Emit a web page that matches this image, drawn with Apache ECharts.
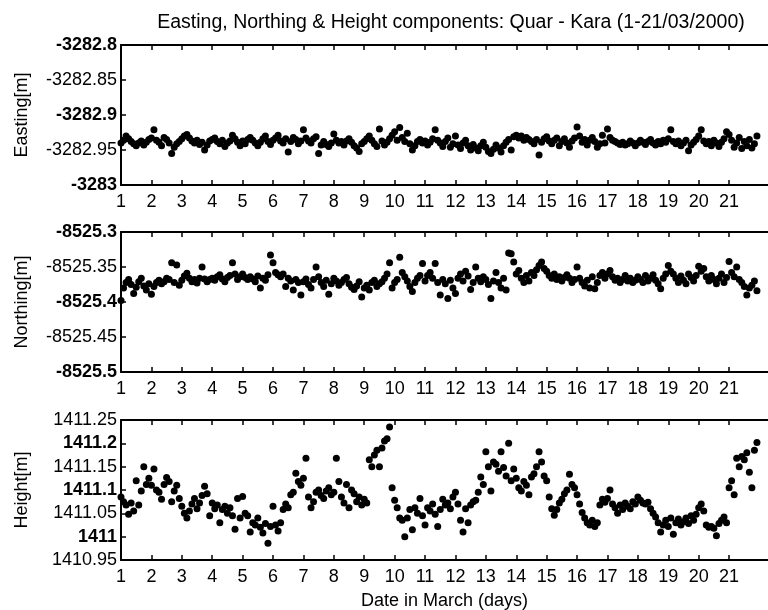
<!DOCTYPE html>
<html>
<head>
<meta charset="utf-8">
<title>Quar - Kara components</title>
<script src="https://cdn.jsdelivr.net/npm/echarts@6/dist/echarts.min.js"></script>
<style>
  html, body { margin: 0; padding: 0; background: #fff; }
  #main { width: 768px; height: 610px; }
</style>
</head>
<body>
<div id="main"></div>
<script>
// days shown on the x axes
const dayTicks = [1, 2, 3, 4, 5, 6, 7, 8, 9, 10, 11, 12, 13, 14, 15, 16, 17, 18, 19, 20, 21];
// samples are every 2 hours starting at day 1
const firstDay = 1;
const samplesPerDay = 12;

// Easting [m], one row per day
const easting = [
  -3282.940,-3282.936,-3282.930,-3282.934,-3282.938,-3282.941,-3282.944,-3282.940,-3282.937,-3282.943,-3282.939,-3282.935,
  -3282.933,-3282.921,-3282.936,-3282.939,-3282.944,-3282.932,-3282.935,-3282.940,-3282.955,-3282.946,-3282.941,-3282.938,
  -3282.934,-3282.930,-3282.928,-3282.933,-3282.937,-3282.940,-3282.936,-3282.942,-3282.939,-3282.950,-3282.943,-3282.937,
  -3282.935,-3282.933,-3282.938,-3282.941,-3282.936,-3282.945,-3282.940,-3282.937,-3282.929,-3282.934,-3282.939,-3282.944,
  -3282.937,-3282.941,-3282.935,-3282.932,-3282.936,-3282.940,-3282.944,-3282.939,-3282.934,-3282.930,-3282.938,-3282.942,
  -3282.936,-3282.933,-3282.929,-3282.937,-3282.940,-3282.934,-3282.953,-3282.938,-3282.932,-3282.935,-3282.941,-3282.937,
  -3282.921,-3282.933,-3282.937,-3282.940,-3282.934,-3282.931,-3282.955,-3282.943,-3282.938,-3282.942,-3282.945,-3282.940,
  -3282.927,-3282.936,-3282.940,-3282.938,-3282.943,-3282.937,-3282.934,-3282.939,-3282.944,-3282.947,-3282.952,-3282.941,
  -3282.938,-3282.934,-3282.930,-3282.936,-3282.941,-3282.945,-3282.920,-3282.937,-3282.943,-3282.939,-3282.934,-3282.929,
  -3282.924,-3282.936,-3282.918,-3282.932,-3282.938,-3282.926,-3282.941,-3282.950,-3282.944,-3282.938,-3282.935,-3282.940,
  -3282.937,-3282.943,-3282.939,-3282.934,-3282.921,-3282.936,-3282.940,-3282.945,-3282.938,-3282.933,-3282.946,-3282.941,
  -3282.930,-3282.943,-3282.948,-3282.940,-3282.936,-3282.944,-3282.950,-3282.942,-3282.947,-3282.951,-3282.944,-3282.939,
  -3282.946,-3282.952,-3282.955,-3282.949,-3282.943,-3282.947,-3282.953,-3282.944,-3282.939,-3282.935,-3282.950,-3282.931,
  -3282.929,-3282.933,-3282.930,-3282.936,-3282.932,-3282.935,-3282.938,-3282.941,-3282.935,-3282.957,-3282.939,-3282.934,
  -3282.931,-3282.937,-3282.941,-3282.936,-3282.933,-3282.944,-3282.938,-3282.934,-3282.940,-3282.946,-3282.937,-3282.933,
  -3282.917,-3282.930,-3282.939,-3282.935,-3282.943,-3282.936,-3282.932,-3282.938,-3282.946,-3282.941,-3282.929,-3282.940,
  -3282.920,-3282.932,-3282.936,-3282.938,-3282.940,-3282.942,-3282.939,-3282.943,-3282.941,-3282.937,-3282.940,-3282.944,
  -3282.940,-3282.936,-3282.939,-3282.942,-3282.938,-3282.935,-3282.940,-3282.943,-3282.938,-3282.941,-3282.936,-3282.939,
  -3282.934,-3282.921,-3282.938,-3282.941,-3282.937,-3282.944,-3282.940,-3282.936,-3282.951,-3282.943,-3282.939,-3282.935,
  -3282.930,-3282.921,-3282.937,-3282.941,-3282.938,-3282.944,-3282.936,-3282.940,-3282.945,-3282.939,-3282.934,-3282.924,
  -3282.928,-3282.936,-3282.946,-3282.940,-3282.932,-3282.948,-3282.938,-3282.944,-3282.935,-3282.947,-3282.941,-3282.930
];

// Northing [m]
const northing = [
  -8525.398,-8525.380,-8525.372,-8525.368,-8525.375,-8525.388,-8525.379,-8525.371,-8525.366,-8525.377,-8525.383,-8525.374,
  -8525.389,-8525.378,-8525.372,-8525.369,-8525.374,-8525.371,-8525.366,-8525.368,-8525.344,-8525.372,-8525.347,-8525.376,
  -8525.369,-8525.363,-8525.359,-8525.366,-8525.371,-8525.368,-8525.373,-8525.366,-8525.350,-8525.367,-8525.371,-8525.368,
  -8525.366,-8525.369,-8525.364,-8525.361,-8525.367,-8525.371,-8525.365,-8525.362,-8525.344,-8525.360,-8525.368,-8525.364,
  -8525.360,-8525.365,-8525.368,-8525.364,-8525.367,-8525.371,-8525.363,-8525.380,-8525.366,-8525.369,-8525.361,-8525.333,
  -8525.344,-8525.358,-8525.361,-8525.364,-8525.360,-8525.378,-8525.366,-8525.370,-8525.383,-8525.368,-8525.372,-8525.390,
  -8525.371,-8525.367,-8525.375,-8525.380,-8525.368,-8525.350,-8525.364,-8525.372,-8525.378,-8525.369,-8525.389,-8525.374,
  -8525.366,-8525.370,-8525.376,-8525.372,-8525.368,-8525.365,-8525.374,-8525.379,-8525.382,-8525.377,-8525.371,-8525.393,
  -8525.380,-8525.376,-8525.383,-8525.372,-8525.369,-8525.378,-8525.374,-8525.371,-8525.366,-8525.360,-8525.344,-8525.380,
  -8525.372,-8525.368,-8525.336,-8525.358,-8525.364,-8525.370,-8525.378,-8525.385,-8525.372,-8525.366,-8525.362,-8525.345,
  -8525.370,-8525.362,-8525.358,-8525.366,-8525.345,-8525.372,-8525.390,-8525.368,-8525.374,-8525.395,-8525.369,-8525.380,
  -8525.388,-8525.366,-8525.360,-8525.370,-8525.356,-8525.363,-8525.382,-8525.372,-8525.350,-8525.366,-8525.371,-8525.364,
  -8525.368,-8525.375,-8525.395,-8525.370,-8525.358,-8525.372,-8525.380,-8525.366,-8525.383,-8525.330,-8525.331,-8525.343,
  -8525.360,-8525.355,-8525.366,-8525.372,-8525.362,-8525.370,-8525.358,-8525.362,-8525.354,-8525.348,-8525.343,-8525.352,
  -8525.356,-8525.362,-8525.366,-8525.360,-8525.368,-8525.364,-8525.370,-8525.365,-8525.361,-8525.366,-8525.372,-8525.368,
  -8525.350,-8525.366,-8525.372,-8525.377,-8525.369,-8525.380,-8525.364,-8525.381,-8525.372,-8525.362,-8525.358,-8525.366,
  -8525.360,-8525.355,-8525.364,-8525.369,-8525.366,-8525.372,-8525.368,-8525.362,-8525.370,-8525.366,-8525.372,-8525.369,
  -8525.364,-8525.368,-8525.372,-8525.362,-8525.370,-8525.366,-8525.361,-8525.369,-8525.374,-8525.381,-8525.366,-8525.360,
  -8525.348,-8525.356,-8525.360,-8525.366,-8525.372,-8525.363,-8525.369,-8525.374,-8525.360,-8525.365,-8525.370,-8525.362,
  -8525.349,-8525.356,-8525.352,-8525.364,-8525.370,-8525.362,-8525.368,-8525.374,-8525.366,-8525.360,-8525.372,-8525.365,
  -8525.342,-8525.358,-8525.364,-8525.350,-8525.368,-8525.372,-8525.378,-8525.390,-8525.380,-8525.376,-8525.370,-8525.384
];

// Height [m]
const height = [
  1411.085,1411.075,1411.068,1411.048,1411.072,1411.055,1411.120,1411.068,1411.098,1411.150,1411.112,1411.125,
  1411.110,1411.145,1411.100,1411.095,1411.080,1411.112,1411.127,1411.118,1411.075,1411.098,1411.110,1411.082,
  1411.065,1411.050,1411.040,1411.055,1411.070,1411.082,1411.060,1411.072,1411.088,1411.108,1411.092,1411.045,
  1411.072,1411.060,1411.068,1411.030,1411.058,1411.065,1411.050,1411.062,1411.045,1411.016,1411.082,1411.040,
  1411.086,1411.050,1411.045,1411.010,1411.030,1411.025,1411.040,1411.020,1411.008,1411.028,1410.986,1411.022,
  1411.065,1411.025,1411.012,1411.030,1411.058,1411.070,1411.062,1411.090,1411.095,1411.136,1411.118,1411.110,
  1411.125,1411.168,1411.085,1411.062,1411.075,1411.095,1411.100,1411.088,1411.082,1411.098,1411.105,1411.090,
  1411.095,1411.168,1411.118,1411.085,1411.072,1411.112,1411.062,1411.100,1411.092,1411.075,1411.085,1411.068,
  1411.080,1411.072,1411.165,1411.150,1411.175,1411.185,1411.150,1411.190,1411.205,1411.210,1411.235,1411.105,
  1411.078,1411.062,1411.040,1411.035,1411.000,1411.040,1411.058,1411.015,1411.062,1411.050,1411.082,1411.045,
  1411.025,1411.062,1411.055,1411.070,1411.048,1411.022,1411.058,1411.080,1411.068,1411.072,1411.060,1411.085,
  1411.095,1411.070,1411.035,1411.010,1411.060,1411.030,1411.068,1411.075,1411.078,1411.095,1411.128,1411.112,
  1411.182,1411.150,1411.098,1411.160,1411.155,1411.140,1411.182,1411.148,1411.130,1411.200,1411.120,1411.145,
  1411.125,1411.105,1411.098,1411.118,1411.110,1411.090,1411.128,1411.135,1411.150,1411.182,1411.160,1411.130,
  1411.120,1411.085,1411.060,1411.046,1411.058,1411.072,1411.080,1411.092,1411.100,1411.134,1411.112,1411.105,
  1411.090,1411.070,1411.052,1411.040,1411.030,1411.025,1411.035,1411.022,1411.030,1411.068,1411.080,1411.074,
  1411.082,1411.100,1411.070,1411.062,1411.050,1411.068,1411.058,1411.072,1411.065,1411.060,1411.075,1411.070,
  1411.085,1411.078,1411.072,1411.070,1411.074,1411.060,1411.050,1411.042,1411.030,1411.010,1411.025,1411.035,
  1411.022,1411.040,1411.005,1411.030,1411.038,1411.025,1411.032,1411.040,1411.028,1411.045,1411.035,1411.048,
  1411.062,1411.070,1411.055,1411.025,1411.020,1411.022,1411.018,1411.002,1411.028,1411.035,1411.042,1411.030,
  1411.105,1411.120,1411.090,1411.168,1411.150,1411.172,1411.165,1411.180,1411.138,1411.105,1411.185,1411.202
];

const fontFam = '"Liberation Sans", Arial, sans-serif';
const xMin = 1, xMax = 22.28;

// panels: name, data, y range
const panels = [
  { name: 'Easting[m]',  data: easting,  min: -3283,   max: -3282.8, top: 45 },
  { name: 'Northing[m]', data: northing, min: -8525.5, max: -8525.3, top: 232 },
  { name: 'Height[m]',   data: height,   min: 1410.95, max: 1411.25, top: 420 }
];

function toPoints(vals) {
  return vals.map((v, i) => [firstDay + i / samplesPerDay, v]);
}

// MATLAB-ish labels: the multiples of 0.1 came out bold in the original
function yLabel(v) {
  let c = Math.round(v * 100);
  let s = String(c / 100);
  return (c % 10 === 0) ? '{b|' + s + '}' : '{n|' + s + '}';
}

let chart = echarts.init(document.getElementById('main'), null, { renderer: 'canvas' });

let grids = [], xAxes = [], yAxes = [], series = [];
panels.forEach((p, i) => {
  // fixed boxes, don't let v6 shrink them to fit the names
  grids.push({ left: 121, right: 0, top: p.top, height: 140, containLabel: false, outerBoundsMode: 'none' });
  // bottom axis with day labels
  xAxes.push({
    type: 'value', gridIndex: i, position: 'bottom', min: xMin, max: xMax,
    axisLine: { show: true, onZero: false, lineStyle: { color: '#000', width: 2 } },
    axisTick: { show: true, inside: true, length: 5, customValues: dayTicks, lineStyle: { color: '#000', width: 1.5 } },
    axisLabel: { show: true, customValues: dayTicks, color: '#000', fontSize: 18, fontFamily: fontFam, margin: 8 },
    splitLine: { show: false },
    name: i === 2 ? 'Date in March (days)' : '',
    nameLocation: 'middle', nameGap: 32,
    nameTextStyle: { color: '#000', fontSize: 18, fontFamily: fontFam }
  });
  // top border with ticks
  xAxes.push({
    type: 'value', gridIndex: i, position: 'top', min: xMin, max: xMax,
    axisLine: { show: true, onZero: false, lineStyle: { color: '#000', width: 2 } },
    axisTick: { show: true, inside: true, length: 5, customValues: dayTicks, lineStyle: { color: '#000', width: 1.5 } },
    axisLabel: { show: false },
    splitLine: { show: false }
  });
  yAxes.push({
    type: 'value', gridIndex: i, min: p.min, max: p.max, interval: 0.05,
    name: p.name, nameLocation: 'middle', nameGap: 90,
    nameTextStyle: { color: '#000', fontSize: 18, fontFamily: fontFam },
    axisLine: { show: true, onZero: false, lineStyle: { color: '#000', width: 2 } },
    axisTick: { show: true, inside: true, length: 5, lineStyle: { color: '#000', width: 1.5 } },
    axisLabel: {
      formatter: yLabel, margin: 4,
      rich: {
        b: { color: '#000', fontSize: 18, fontWeight: 'bold', fontFamily: fontFam },
        n: { color: '#000', fontSize: 18, fontFamily: fontFam }
      }
    },
    splitLine: { show: false }
  });
  series.push({
    type: 'scatter', xAxisIndex: i * 2, yAxisIndex: i,
    symbol: 'circle', symbolSize: 7,
    itemStyle: { color: '#000', opacity: 1 },
    data: toPoints(p.data)
  });
});

chart.setOption({
  animation: false,
  backgroundColor: '#fff',
  title: {
    text: 'Easting, Northing & Height components: Quar - Kara (1-21/03/2000)',
    left: 446, top: 8, textAlign: 'center',
    textStyle: { color: '#000', fontSize: 19.5, fontWeight: 'normal', fontFamily: fontFam }
  },
  grid: grids,
  xAxis: xAxes,
  yAxis: yAxes,
  series: series
});
</script>
</body>
</html>
